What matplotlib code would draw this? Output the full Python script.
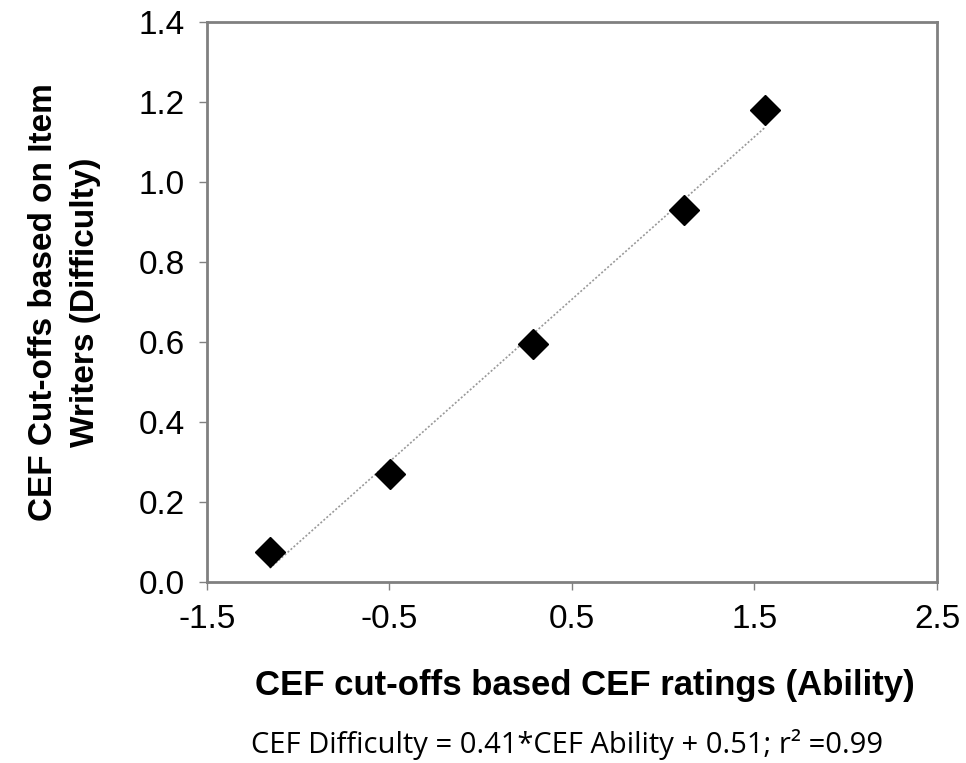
import numpy as np
import matplotlib.pyplot as plt

# CEF cut-offs: ability (x) vs item writers' difficulty (y)
ability = [-1.155, -0.497, 0.286, 1.114, 1.558]
difficulty = [0.075, 0.27, 0.595, 0.93, 1.18]

x_ticks = [-1.5, -0.5, 0.5, 1.5, 2.5]
y_ticks = [0.0, 0.2, 0.4, 0.6, 0.8, 1.0, 1.2, 1.4]

plt.rcParams['font.family'] = ['Liberation Sans', 'DejaVu Sans']

fig = plt.figure(figsize=(9.66, 7.63), dpi=100)
ax = fig.add_axes([0.214, 0.237, 0.756, 0.734])

# linear trend line across the data
slope, intercept = np.polyfit(ability, difficulty, 1)
xs = np.array([min(ability), max(ability)])
ax.plot(xs, slope * xs + intercept, linestyle=(0, (1.2, 1.2)), color='#999999', linewidth=1.2, zorder=1)

ax.plot(ability, difficulty, linestyle='none', marker='D', markersize=15, color='black', zorder=2)

ax.set_xlim(-1.5, 2.5)
ax.set_ylim(0, 1.4)
ax.set_xticks(x_ticks)
ax.set_xticklabels([f"{v:.1f}" for v in x_ticks])
ax.set_yticks(y_ticks)
ax.set_yticklabels([f"{v:.1f}" for v in y_ticks])

for s in ax.spines.values():
    s.set_color('#808080')
    s.set_linewidth(2)
ax.tick_params(direction='out', length=6, width=1, color='#808080', labelsize=24, pad=10)

ax.set_xlabel("CEF cut-offs based CEF ratings (Ability)", fontsize=25, fontweight='bold', va='top')
ax.xaxis.set_label_coords(0.518, -0.155)
ax.set_ylabel("CEF Cut-offs based on Item\nWriters (Difficulty)", fontsize=24, fontweight='bold',
              linespacing=1.45)
ax.yaxis.set_label_coords(-0.145, 0.5)

fig.text(0.587, 0.013, "CEF Difficulty = 0.41*CEF Ability + 0.51; r\u00b2 =0.99",
         ha='center', va='baseline', fontsize=21, family=['Open Sans', 'DejaVu Sans'])

fig.savefig("out.png", dpi=100)
